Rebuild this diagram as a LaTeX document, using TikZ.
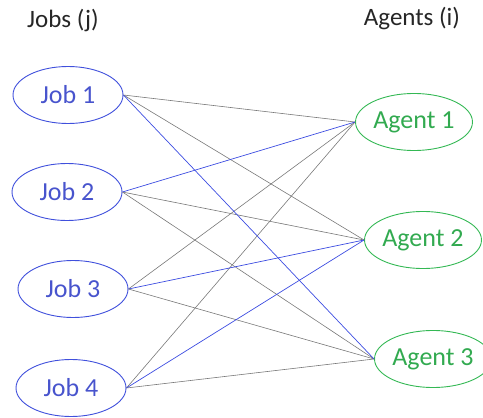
\documentclass[tikz,border=0pt]{standalone}
\usepackage{fontspec}
\setmainfont{Carlito}
\usetikzlibrary{shapes.geometric}
\definecolor{jobblue}{RGB}{64,80,220}
\definecolor{jobtext}{RGB}{72,84,205}
\definecolor{agentgreen}{RGB}{52,184,84}
\definecolor{agenttext}{RGB}{50,170,80}
\definecolor{linkgray}{RGB}{120,120,120}
\definecolor{linkblue}{RGB}{60,76,225}
\tikzset{
  job/.style={ellipse, draw=jobblue, line width=0.9pt, text=jobtext,
    minimum width=110pt, minimum height=57pt, inner sep=0pt,
    font=\fontsize{26}{28}\selectfont},
  agent/.style={ellipse, draw=agentgreen, line width=0.9pt, text=agenttext,
    minimum width=117pt, minimum height=57pt, inner sep=0pt,
    font=\fontsize{26}{28}\selectfont},
  header/.style={text=black!85, font=\fontsize{25}{27}\selectfont, inner sep=0pt},
  link/.style={draw=linkgray, line width=0.6pt},
  pick/.style={draw=linkblue, line width=0.7pt}
}
\begin{document}
\begin{tikzpicture}[x=1pt, y=-1pt]
\useasboundingbox (0,0) rectangle (483,418);

% column headers
\node[header] (hj) at (63,20) {Jobs (j)};
\node[header] (ha) at (412,19) {Agents (i)};

% jobs
\node[job] (j1) at (68,95) {Job 1};
\node[job] (j2) at (67,192) {Job 2};
\node[job] (j3) at (73,289) {Job 3};
\node[job] (j4) at (71,388) {Job 4};

% agents
\node[agent] (a1) at (414,122) {Agent 1};
\node[agent] (a2) at (423,240) {Agent 2};
\node[agent] (a3) at (433,359) {Agent 3};

% all job-agent pairs
\draw[link] (j1.east) -- (a1.west);
\draw[link] (j1.east) -- (a2.west);
\draw[link] (j2.east) -- (a2.west);
\draw[link] (j2.east) -- (a3.west);
\draw[link] (j3.east) -- (a1.west);
\draw[link] (j3.east) -- (a3.west);
\draw[link] (j4.east) -- (a1.west);
\draw[link] (j4.east) -- (a3.west);

% chosen assignments
\draw[pick] (j1.east) -- (a3.west);
\draw[pick] (j2.east) -- (a1.west);
\draw[pick] (j3.east) -- (a2.west);
\draw[pick] (j4.east) -- (a2.west);
\end{tikzpicture}
\end{document}
